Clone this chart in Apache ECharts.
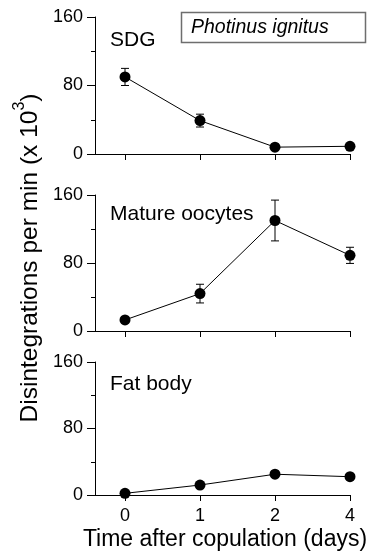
<!DOCTYPE html>
<html>
<head>
<meta charset="utf-8">
<script src="https://cdn.jsdelivr.net/npm/echarts@6/dist/echarts.min.js"></script>
<style>
html, body { margin: 0; padding: 0; background: #fff; }
#chart { width: 376px; height: 554px; }
</style>
</head>
<body>
<div id="chart"></div>
<script>
// days after copulation (plotted evenly spaced)
var days = ['0', '1', '2', '4'];
var yTicks = [0, 80, 160];

var sdgMean = [90, 39, 8, 9];
var sdgErr = [10, 7.5, 0, 0];
var oocyteMean = [13, 44, 130, 89];
var oocyteErr = [0, 11, 24, 9.5];
var fatMean = [2, 12, 25, 22];
var fatErr = [0, 0, 0, 0];

var panelNames = ['SDG', 'Mature oocytes', 'Fat body'];

var font = 'Liberation Sans, Arial, sans-serif';
var chart = echarts.init(document.getElementById('chart'));

var panels = [
    { top: 17, height: 137, mean: sdgMean, err: sdgErr, labelY: 40 },
    { top: 195, height: 136, mean: oocyteMean, err: oocyteErr, labelY: 214 },
    { top: 362, height: 133, mean: fatMean, err: fatErr, labelY: 384 }
];
var tickPos = days.map(function (d, i) { return i; });

var grids = [], xAxes = [], yAxes = [], series = [], graphics = [];

panels.forEach(function (p, k) {
    grids.push({ left: 95, width: 255, top: p.top, height: p.height });
    xAxes.push({
        type: 'value',
        gridIndex: k,
        min: -0.4,
        max: 3,
        axisLine: { show: true, onZero: false, lineStyle: { color: '#000', width: 1 } },
        axisTick: { show: true, customValues: tickPos, length: 6, lineStyle: { color: '#000' } },
        axisLabel: {
            show: k === 2,
            customValues: tickPos,
            formatter: function (v) { return days[Math.round(v)]; },
            color: '#000',
            fontSize: 18,
            fontFamily: font,
            margin: 12
        },
        splitLine: { show: false }
    });
    yAxes.push({
        type: 'value',
        gridIndex: k,
        min: yTicks[0],
        max: yTicks[yTicks.length - 1],
        interval: 80,
        axisLine: { show: true, onZero: false, lineStyle: { color: '#000', width: 1 } },
        axisTick: { show: true, length: 8, lineStyle: { color: '#000' } },
        minorTick: { show: true, splitNumber: 2, length: 4, lineStyle: { color: '#000' } },
        axisLabel: { color: '#000', fontSize: 18, fontFamily: font, margin: 12 },
        splitLine: { show: false }
    });
    series.push({
        type: 'line',
        xAxisIndex: k,
        yAxisIndex: k,
        data: p.mean.map(function (v, i) { return [i, v]; }),
        symbol: 'circle',
        symbolSize: 11,
        itemStyle: { color: '#000' },
        lineStyle: { color: '#000', width: 1 },
        silent: true,
        z: 3
    });
    series.push({
        type: 'custom',
        xAxisIndex: k,
        yAxisIndex: k,
        data: p.mean.map(function (v, i) { return [i, v, p.err[i]]; }),
        renderItem: function (params, api) {
            var x = api.value(0), m = api.value(1), e = api.value(2);
            if (!e) return;
            var top = api.coord([x, m + e]);
            var bot = api.coord([x, m - e]);
            var w = 4;
            var st = { stroke: '#000', lineWidth: 1 };
            return {
                type: 'group',
                children: [
                    { type: 'line', shape: { x1: top[0], y1: top[1], x2: bot[0], y2: bot[1] }, style: st },
                    { type: 'line', shape: { x1: top[0] - w, y1: top[1], x2: top[0] + w, y2: top[1] }, style: st },
                    { type: 'line', shape: { x1: bot[0] - w, y1: bot[1], x2: bot[0] + w, y2: bot[1] }, style: st }
                ]
            };
        },
        z: 4
    });
    graphics.push({
        type: 'text',
        x: 110,
        y: p.labelY,
        style: {
            text: panelNames[k], fontSize: 21, fontFamily: font, fill: '#000',
            verticalAlign: 'middle'
        }
    });
});

// species box
graphics.push({
    type: 'rect',
    shape: { x: 181.5, y: 12.5, width: 184, height: 30 },
    style: { fill: '#fff', stroke: '#6e6e6e', lineWidth: 1.5 }
});
graphics.push({
    type: 'text',
    x: 191,
    y: 28,
    style: {
        text: 'Photinus ignitus', fontSize: 19.5, fontStyle: 'italic',
        fontFamily: font, fill: '#000', verticalAlign: 'middle'
    }
});

// axis titles
graphics.push({
    type: 'text',
    x: 225,
    y: 540,
    style: {
        text: 'Time after copulation (days)', fontSize: 23, fontFamily: font,
        fill: '#000', align: 'center', verticalAlign: 'middle'
    }
});
graphics.push({
    type: 'text',
    x: 30,
    y: 258,
    rotation: Math.PI / 2,
    style: {
        text: 'Disintegrations per min (x 10{s|3})',
        fontSize: 24.5, fontFamily: font, fill: '#000',
        align: 'center', verticalAlign: 'middle',
        rich: { s: { fontSize: 16, fontFamily: font, verticalAlign: 'top', lineHeight: 36 } }
    }
});

chart.setOption({
    animation: false,
    backgroundColor: '#fff',
    grid: grids,
    xAxis: xAxes,
    yAxis: yAxes,
    series: series,
    graphic: graphics
});
</script>
</body>
</html>
